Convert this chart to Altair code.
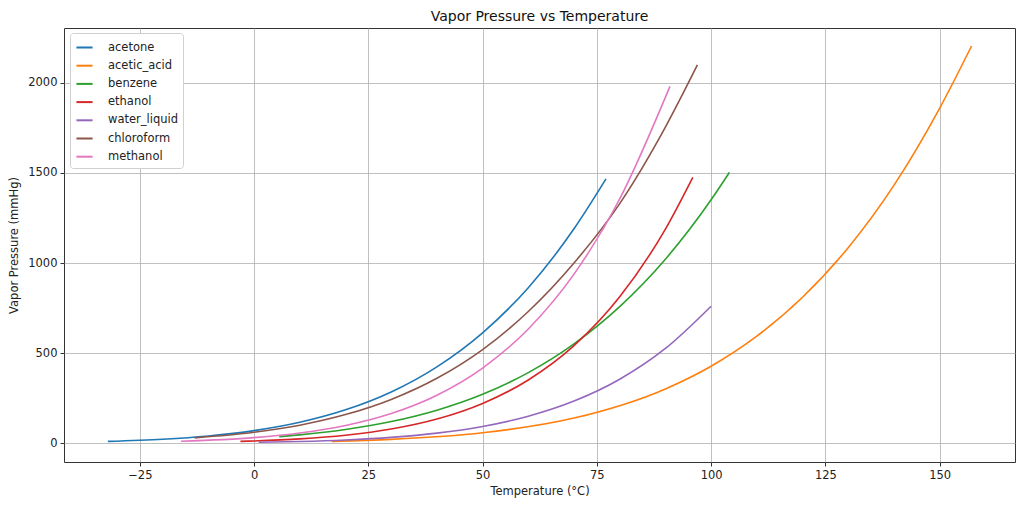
import altair as alt
import pandas as pd

substances = ["acetone", "acetic_acid", "benzene", "ethanol", "water_liquid", "chloroform", "methanol"]
colors = ["#1f77b4", "#ff7f0e", "#2ca02c", "#d62728", "#9467bd", "#8c564b", "#e377c2"]

acetone_t = [-32, -20, -10, 0, 10, 20, 30, 40, 50, 60, 70, 77]
acetone_p = [9.5, 21.5, 39.7, 69.4, 115.5, 184.6, 284, 423.6, 612.6, 863, 1190, 1467]

acetic_t = [17, 30, 50, 70, 90, 100, 110, 120, 130, 140, 150, 157]
acetic_p = [9.6, 20.5, 57.1, 138.8, 300.9, 427, 593.8, 809.9, 1085, 1431, 1859, 2205]

benzene_t = [5.5, 10, 20, 30, 40, 50, 60, 70, 80, 90, 100, 104]
benzene_p = [35.8, 45.5, 75.2, 119.4, 182.8, 271.3, 391.4, 551, 757.8, 1021, 1351, 1503]

ethanol_t = [-3, 10, 20, 30, 40, 50, 60, 70, 80, 90, 96]
ethanol_p = [9.5, 23.3, 43.7, 78.1, 133.7, 220.3, 350.6, 541.2, 812.3, 1188.5, 1476]

water_t = [1, 10, 20, 30, 40, 50, 60, 70, 80, 90, 100]
water_p = [4.9, 9.2, 17.5, 31.7, 55.2, 92.3, 149.1, 233.2, 354.5, 525.3, 760]

chloroform_t = [-13, 0, 10, 20, 30, 40, 50, 60, 70, 80, 90, 97]
chloroform_p = [29.0, 60.1, 99.5, 158.2, 242.5, 360.1, 519.5, 730.5, 1000, 1330, 1755, 2100]

methanol_t = [-16, 0, 10, 20, 30, 40, 50, 60, 70, 80, 91]
methanol_p = [10.2, 30.2, 55.6, 97.5, 163.9, 265.8, 416.6, 633.7, 938.4, 1356, 1981]

x_ticks = [-25, 0, 25, 50, 75, 100, 125, 150]
y_ticks = [0, 500, 1000, 1500, 2000]

series = [
    ("acetone", acetone_t, acetone_p),
    ("acetic_acid", acetic_t, acetic_p),
    ("benzene", benzene_t, benzene_p),
    ("ethanol", ethanol_t, ethanol_p),
    ("water_liquid", water_t, water_p),
    ("chloroform", chloroform_t, chloroform_p),
    ("methanol", methanol_t, methanol_p),
]
rows = []
for idx, (name, ts, ps) in enumerate(series):
    for t, p in zip(ts, ps):
        rows.append({"substance": name, "T": t, "P": p, "order": idx})
df = pd.DataFrame(rows)

FONT = "DejaVu Sans"

chart = alt.Chart(df).mark_line(strokeWidth=1.6, interpolate="monotone").encode(
    x=alt.X("T:Q", title="Temperature (°C)",
            scale=alt.Scale(domain=[-41.6, 166.5], nice=False, zero=False),
            axis=alt.Axis(values=x_ticks, format="d")),
    y=alt.Y("P:Q", title="Vapor Pressure (mmHg)",
            scale=alt.Scale(domain=[-105, 2305], nice=False, zero=False),
            axis=alt.Axis(values=y_ticks, format="d")),
    color=alt.Color("substance:N", sort=substances,
                    scale=alt.Scale(domain=substances, range=colors),
                    legend=alt.Legend(title=None, orient="none", legendX=6, legendY=5,
                                      symbolType="stroke", symbolSize=260, symbolStrokeWidth=2,
                                      labelFontSize=11.5, labelFont=FONT, labelColor="#222",
                                      rowPadding=3.2, padding=5, fillColor="white",
                                      strokeColor="#d0d0d0", cornerRadius=3,
                                      labelOffset=14)),
    detail="substance:N",
    order="order:Q",
).properties(
    width=951,
    height=434,
    autosize=alt.AutoSizeParams(type="none"),
    padding={"left": 56, "top": 20, "right": 1, "bottom": 38},
    title=alt.Title("Vapor Pressure vs Temperature", font=FONT, fontSize=14,
                    fontWeight="normal", color="#111", offset=4),
).configure_view(
    stroke="#333", strokeWidth=1
).configure_axis(
    labelFont=FONT, labelFontSize=11.5, labelColor="#222",
    titleFont=FONT, titleFontSize=11.5, titleFontWeight="normal", titleColor="#222",
    grid=True, gridColor="#b0b0b0", gridWidth=0.8,
    tickColor="#333", tickSize=4, domain=False, labelPadding=3,
).configure_axisX(titlePadding=5).configure_axisY(titlePadding=8)

chart.save("out.html", embed_options={"renderer": "svg", "actions": False})
